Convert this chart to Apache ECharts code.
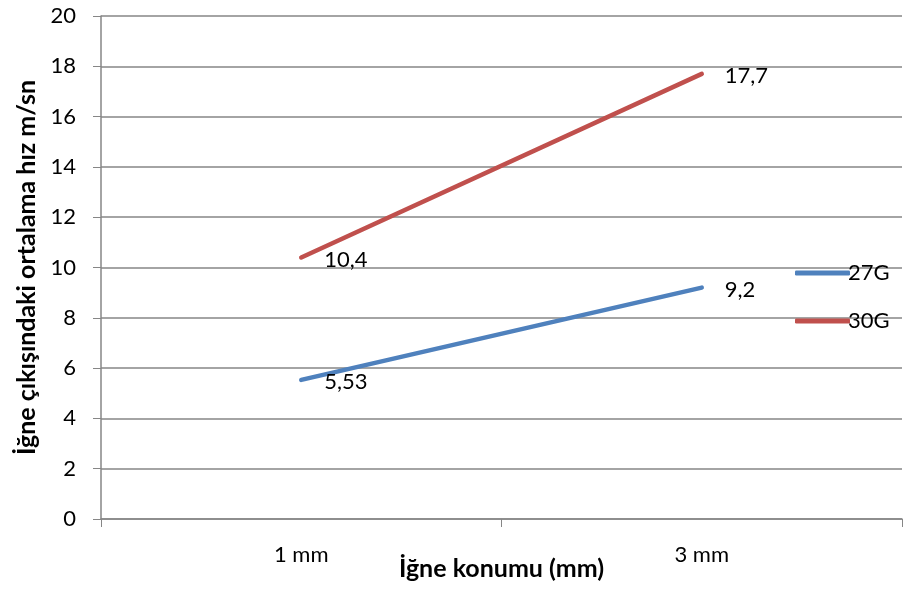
<!DOCTYPE html>
<html>
<head>
<meta charset="utf-8">
<script src="https://cdn.jsdelivr.net/npm/echarts@6/dist/echarts.min.js"></script>
<style>html,body{margin:0;padding:0;background:#fff;}#c{width:904px;height:591px;}</style>
</head>
<body>
<div id="c"></div>
<script>
const categories = ['1 mm', '3 mm'];
const seriesNames = ['27G', '30G'];
const values27G = [5.53, 9.2];
const values30G = [10.4, 17.7];
const yTicks = [0, 2, 4, 6, 8, 10, 12, 14, 16, 18, 20];
const xTitle = 'İğne konumu (mm)';
const yTitle = 'İğne çıkışındaki ortalama hız m/sn';

const FONT = 'Lato, "Open Sans", sans-serif';
const gridColor = '#868686';
const chart = echarts.init(document.getElementById('c'));
const lbl = {
  show: true, position: 'right', distance: 22, offset: [0, 2],
  color: '#000', fontSize: 22, fontFamily: FONT,
  formatter: p => String(p.value).replace('.', ',')
};
chart.setOption({
  animation: false,
  textStyle: { fontFamily: FONT },
  grid: { left: 101, right: 2, top: 16, bottom: 72, containLabel: false, outerBoundsMode: 'none' },
  legend: {
    orient: 'vertical', left: 790, top: 257,
    itemWidth: 55, itemHeight: 5, itemGap: 26, icon: 'roundRect',
    textStyle: { fontSize: 22, color: '#000', fontFamily: FONT, padding: [0, 0, 0, -7] },
    data: seriesNames
  },
  xAxis: {
    type: 'category', data: categories, boundaryGap: true,
    name: xTitle, nameLocation: 'middle', nameGap: 37, nameMoveOverlap: false,
    nameTextStyle: { fontSize: 25, fontWeight: 'bold', color: '#000', fontFamily: FONT, verticalAlign: 'top' },
    axisLine: { lineStyle: { color: gridColor, width: 1.5 } },
    axisTick: { show: true, length: 8, interval: 0, lineStyle: { color: gridColor } },
    axisLabel: { fontSize: 22, color: '#000', margin: 25 }
  },
  yAxis: {
    type: 'value', min: yTicks[0], max: yTicks[yTicks.length - 1], interval: 2,
    name: yTitle, nameLocation: 'middle', nameGap: 62, nameMoveOverlap: false,
    nameTextStyle: { fontSize: 25, fontWeight: 'bold', color: '#000', fontFamily: FONT },
    axisLine: { show: true, lineStyle: { color: gridColor, width: 1.5 } },
    axisTick: { show: true, length: 8, lineStyle: { color: gridColor } },
    axisLabel: { fontSize: 22, color: '#000', margin: 25 },
    splitLine: { show: true, lineStyle: { color: gridColor, width: 1.5 } }
  },
  series: [
    { name: seriesNames[0], type: 'line', data: values27G, symbol: 'circle', symbolSize: 2,
      showSymbol: true, color: '#4F81BD',
      lineStyle: { width: 4.5, cap: 'round', color: '#4F81BD' }, label: lbl },
    { name: seriesNames[1], type: 'line', data: values30G, symbol: 'circle', symbolSize: 2,
      showSymbol: true, color: '#C0504D',
      lineStyle: { width: 4.5, cap: 'round', color: '#C0504D' }, label: lbl }
  ]
});
</script>
</body>
</html>
